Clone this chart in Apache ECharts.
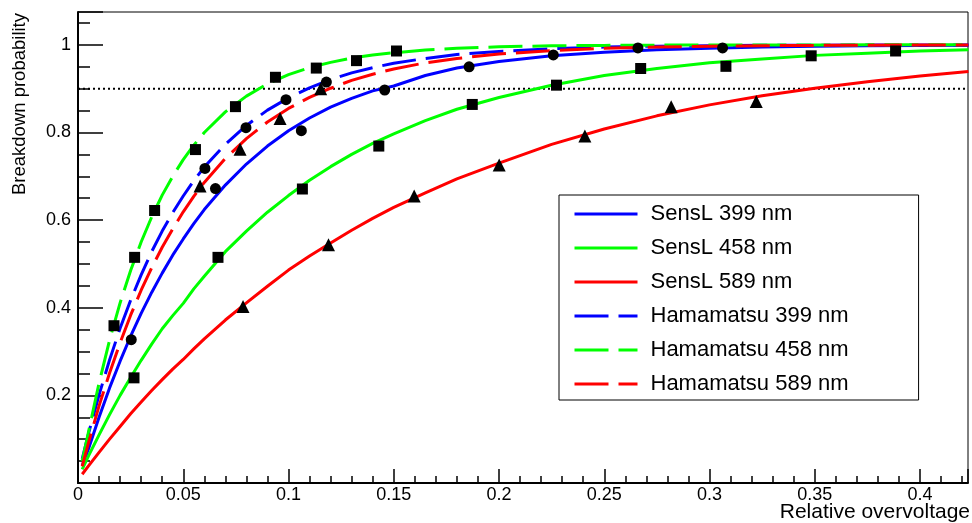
<!DOCTYPE html>
<html>
<head>
<meta charset="utf-8">
<script src="https://cdn.jsdelivr.net/npm/echarts@6/dist/echarts.min.js"></script>
<style>
html, body { margin: 0; padding: 0; background: #fff; }
#chart { width: 972px; height: 523px; }
</style>
</head>
<body>
<div id="chart"></div>
<script>
// fitted curves at these x values
var xFit = [0.002, 0.005, 0.01, 0.015, 0.02, 0.025, 0.03, 0.035, 0.04, 0.045, 0.05, 0.055, 0.06,
    0.07, 0.08, 0.09, 0.1, 0.11, 0.12, 0.13, 0.14, 0.15, 0.165, 0.18, 0.2, 0.225, 0.25, 0.275,
    0.3, 0.325, 0.35, 0.375, 0.4, 0.423];
var sensl399Fit = [0.04, 0.078, 0.15, 0.217, 0.278, 0.335, 0.387, 0.435, 0.479, 0.52, 0.557, 0.592, 0.624,
    0.68, 0.728, 0.769, 0.804, 0.833, 0.858, 0.878, 0.895, 0.906, 0.93, 0.947, 0.962, 0.975, 0.983, 0.989,
    0.9925, 0.995, 0.9967, 0.9978, 0.9985, 0.999];
var sensl458Fit = [0.031, 0.062, 0.11, 0.156, 0.2, 0.241, 0.28, 0.317, 0.352, 0.382, 0.41, 0.443, 0.472,
    0.528, 0.575, 0.618, 0.656, 0.691, 0.722, 0.75, 0.775, 0.797, 0.827, 0.853, 0.88, 0.908, 0.93, 0.946,
    0.959, 0.968, 0.976, 0.981, 0.986, 0.989];
var sensl589Fit = [0.02, 0.039, 0.07, 0.1, 0.129, 0.158, 0.185, 0.211, 0.236, 0.26, 0.282, 0.306, 0.329,
    0.372, 0.411, 0.449, 0.486, 0.518, 0.548, 0.577, 0.604, 0.629, 0.662, 0.694, 0.73, 0.773, 0.808, 0.838,
    0.863, 0.884, 0.901, 0.916, 0.929, 0.939];
var hama399Fit = [0.055, 0.113, 0.201, 0.281, 0.353, 0.417, 0.475, 0.528, 0.575, 0.617, 0.655, 0.69, 0.721,
    0.773, 0.816, 0.851, 0.879, 0.902, 0.921, 0.936, 0.948, 0.958, 0.969, 0.978, 0.985, 0.991, 0.995, 0.997,
    0.998, 0.999, 0.9993, 0.9996, 0.9997, 0.9998];
var hama458Fit = [0.05, 0.117, 0.228, 0.326, 0.411, 0.485, 0.55, 0.607, 0.657, 0.7, 0.738, 0.771, 0.8,
    0.847, 0.883, 0.911, 0.932, 0.948, 0.96, 0.97, 0.977, 0.982, 0.988, 0.992, 0.9955, 0.998, 0.9988, 0.9994,
    0.9997, 0.9998, 0.9999, 1.0, 1.0, 1.0];
var hama589Fit = [0.038, 0.092, 0.176, 0.251, 0.32, 0.383, 0.44, 0.491, 0.538, 0.58, 0.619, 0.654, 0.686,
    0.741, 0.786, 0.824, 0.855, 0.88, 0.901, 0.919, 0.933, 0.945, 0.959, 0.969, 0.979, 0.987, 0.992, 0.995,
    0.997, 0.998, 0.9988, 0.9993, 0.9996, 0.9997];

// measured points
var sensl399X = [0.0253, 0.0653, 0.1061, 0.1457, 0.1858, 0.2258, 0.2660, 0.3062];
var sensl399Y = [0.327, 0.672, 0.804, 0.897, 0.950, 0.977, 0.993, 0.993];
var sensl458X = [0.0266, 0.0665, 0.1066, 0.1429, 0.1873, 0.2273, 0.2673, 0.3078, 0.3483, 0.3884];
var sensl458Y = [0.240, 0.515, 0.671, 0.769, 0.864, 0.908, 0.946, 0.951, 0.975, 0.986];
var sensl589X = [0.0784, 0.1190, 0.1597, 0.2001, 0.2408, 0.2818, 0.3222];
var sensl589Y = [0.403, 0.544, 0.655, 0.726, 0.792, 0.859, 0.871];
var hama399X = [0.0603, 0.0798, 0.0988, 0.1180];
var hama399Y = [0.718, 0.811, 0.875, 0.915];
var hama458X = [0.0171, 0.0269, 0.0364, 0.0558, 0.0748, 0.0938, 0.1132, 0.1323, 0.1513];
var hama458Y = [0.359, 0.515, 0.622, 0.761, 0.859, 0.926, 0.947, 0.964, 0.986];
var hama589X = [0.0580, 0.0770, 0.0960, 0.1153];
var hama589Y = [0.678, 0.762, 0.832, 0.900];

var thresholdY = 0.9;
var xMax = 0.4228;
var yMax = 1.075;

var FONT = 'Liberation Sans, Helvetica, Arial, sans-serif';

function pairs(xs, ys) {
    return xs.map(function (x, i) { return [x, ys[i]]; });
}

function fitSeries(name, ys, color, dashed) {
    return {
        name: name,
        type: 'line',
        data: pairs(xFit, ys),
        symbol: 'none',
        z: 2,
        lineStyle: { color: color, width: 3, type: dashed ? [34, 10] : 'solid', join: 'round' },
        itemStyle: { color: color }
    };
}

function pointSeries(name, xs, ys, symbol, size) {
    return {
        name: name,
        type: 'scatter',
        data: pairs(xs, ys),
        symbol: symbol,
        symbolSize: size,
        z: 4,
        itemStyle: { color: '#000', opacity: 1 }
    };
}

var names = ['SensL 399 nm', 'SensL 458 nm', 'SensL 589 nm', 'Hamamatsu 399 nm', 'Hamamatsu 458 nm', 'Hamamatsu 589 nm'];

var myChart = echarts.init(document.getElementById('chart'));

var option = {
    animation: false,
    backgroundColor: '#fff',
    grid: {
        left: 78, right: 4, top: 12, bottom: 40,
        show: true, borderColor: '#000', borderWidth: 1
    },
    legend: {
        data: names,
        orient: 'vertical',
        left: 559,
        top: 195,
        padding: [8, 70, 5, 14],
        itemWidth: 63,
        itemHeight: 14,
        itemGap: 12,
        borderColor: '#000',
        borderWidth: 1,
        backgroundColor: '#fff',
        itemStyle: { opacity: 0 },
        lineStyle: { width: 3 },
        textStyle: { fontFamily: FONT, fontSize: 22, color: '#000', lineHeight: 22, padding: [0, 0, 0, 8] }
    },
    xAxis: [
        {
            type: 'value', min: 0, max: xMax, interval: 0.05,
            axisLine: { show: true, onZero: false, lineStyle: { color: '#000', width: 2 } },
            axisTick: { inside: true, length: 14, lineStyle: { color: '#000', width: 1.5 } },
            axisLabel: {
                color: '#000', fontFamily: FONT, fontSize: 18, margin: 3,
                formatter: function (v) {
                    var k = v / 0.05;
                    if (Math.abs(k - Math.round(k)) > 1e-6) return '';
                    return String(Math.round(k * 5) / 100);
                }
            },
            splitLine: { show: false }
        },
        {
            type: 'value', min: 0, max: xMax, interval: 0.01, position: 'bottom',
            axisLine: { show: false },
            axisTick: { inside: true, length: 7, lineStyle: { color: '#000', width: 1.5 } },
            axisLabel: { show: false },
            splitLine: { show: false }
        }
    ],
    yAxis: [
        {
            type: 'value', min: 0, max: yMax, interval: 0.2,
            axisLine: { show: true, onZero: false, lineStyle: { color: '#000', width: 2 } },
            axisTick: { inside: true, length: 25, lineStyle: { color: '#000', width: 1.5 } },
            axisLabel: {
                color: '#000', fontFamily: FONT, fontSize: 18, margin: 7,
                formatter: function (v) {
                    if (v < 0.1 || v > 1.01) return '';
                    return v >= 0.999 ? '1' : v.toFixed(1);
                }
            },
            splitLine: { show: false }
        },
        {
            type: 'value', min: 0, max: yMax, interval: 0.05, position: 'left',
            axisLine: { show: false },
            axisTick: { inside: true, length: 12, lineStyle: { color: '#000', width: 1.5 } },
            axisLabel: { show: false },
            splitLine: { show: false }
        }
    ],
    graphic: [
        {
            type: 'text', x: 20, y: 13, rotation: Math.PI / 2,
            style: { text: 'Breakdown probability', font: '18.5px ' + FONT, fill: '#000', align: 'right', verticalAlign: 'middle' }
        },
        {
            type: 'text', x: 970, y: 512,
            style: { text: 'Relative overvoltage', font: '21px ' + FONT, fill: '#000', align: 'right', verticalAlign: 'middle' }
        }
    ],
    series: [
        {
            name: 'threshold',
            type: 'line',
            data: [[0, thresholdY], [xMax, thresholdY]],
            symbol: 'none',
            z: 1,
            lineStyle: { color: '#000', width: 2, type: [2, 3] }
        },
        fitSeries(names[0], sensl399Fit, '#0000ff', false),
        fitSeries(names[1], sensl458Fit, '#00ff00', false),
        fitSeries(names[2], sensl589Fit, '#ff0000', false),
        fitSeries(names[3], hama399Fit, '#0000ff', true),
        fitSeries(names[4], hama458Fit, '#00ff00', true),
        fitSeries(names[5], hama589Fit, '#ff0000', true),
        pointSeries('SensL 399 data', sensl399X, sensl399Y, 'circle', 11),
        pointSeries('SensL 458 data', sensl458X, sensl458Y, 'rect', 11),
        pointSeries('SensL 589 data', sensl589X, sensl589Y, 'triangle', 13),
        pointSeries('Hamamatsu 399 data', hama399X, hama399Y, 'circle', 11),
        pointSeries('Hamamatsu 458 data', hama458X, hama458Y, 'rect', 11),
        pointSeries('Hamamatsu 589 data', hama589X, hama589Y, 'triangle', 13)
    ]
};

myChart.setOption(option);
</script>
</body>
</html>
